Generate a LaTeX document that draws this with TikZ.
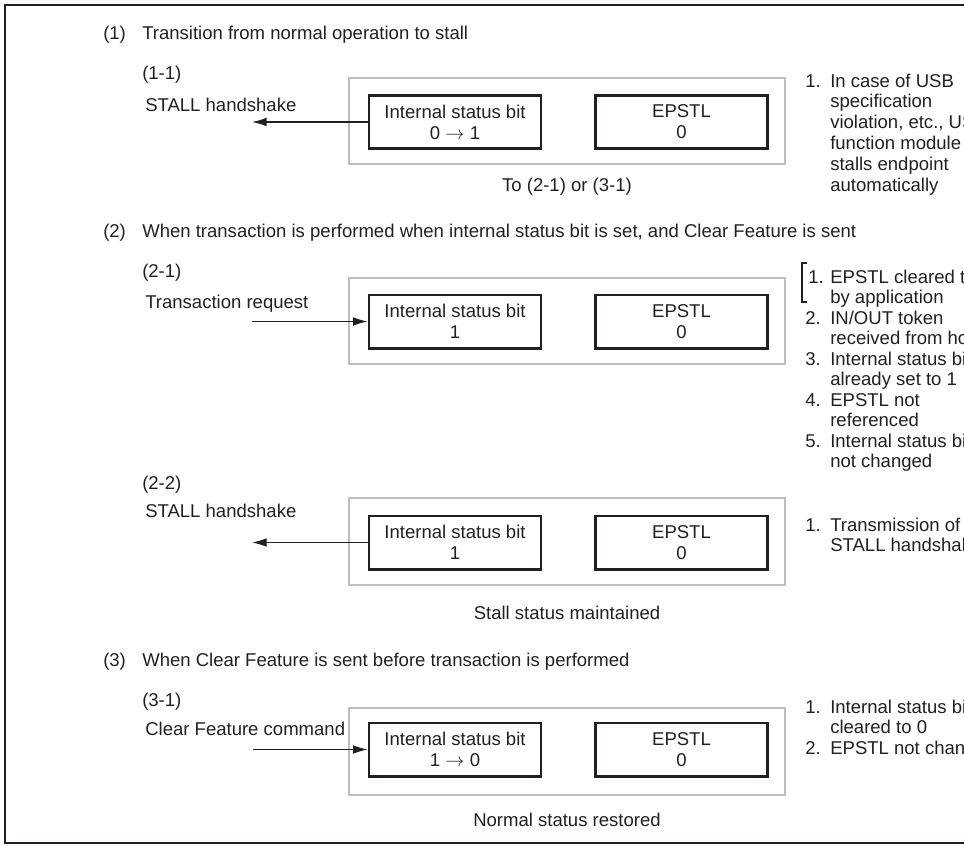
\documentclass[tikz,border=0pt]{standalone}
\usepackage{fontspec}
\setmainfont{Liberation Sans}
\usetikzlibrary{arrows.meta}
\definecolor{ink}{RGB}{35,31,32}
\definecolor{boxgray}{RGB}{190,190,190}
\begin{document}
\begin{tikzpicture}[x=0.75pt,y=-0.75pt,
  txt/.style={font=\fontsize{13.9}{15.2}\selectfont, text=ink, inner sep=0pt, anchor=base west},
  ctxt/.style={txt, anchor=base},
  statebox/.style={draw=ink, line width=2pt, fill=white, minimum width=129pt, minimum height=40pt, inner sep=0pt, align=center, font=\fontsize{13.9}{15.9}\selectfont, text=ink},
  outerbox/.style={draw=boxgray, line width=1.6pt, minimum width=327pt, minimum height=65pt, inner sep=0pt},
  sig/.style={draw=ink, line width=0.9pt, -{Latex[length=11pt,width=6.5pt]}},
  brk/.style={draw=ink, line width=0.8pt},
]
\useasboundingbox (0,0) rectangle (964,846);
\clip (0,0) rectangle (964,846);
% frame
\draw[line width=1.5pt, ink] (964,4.5) -- (4.5,4.5) -- (4.5,843) -- (964,843);

% ---------- (1) ----------
\node[txt] (h1n) at (103,39) {(1)};
\node[txt] (h1) at (142,39) {Transition from normal operation to stall};
\node[txt] (s11) at (142,79) {(1-1)};
\node[txt] (l11) at (145,111) {STALL handshake};
\node[outerbox] (o1) at (567,121) {};
\node[statebox] (i1) at (455,122) {Internal status bit\\0 $\rightarrow$ 1};
\node[statebox] (e1) at (681.5,122) {EPSTL\\0};
\coordinate (a1) at (252,122);
\draw[sig] (i1.west) -- (a1);
\node[ctxt] (c1) at (567,191) {To (2-1) or (3-1)};
\node[txt] (r1n) at (805,87) {1.};
\node[txt] (r1a) at (830,87) {In case of USB};
\node[txt] (r1b) at (830,107.8) {specification};
\node[txt] (r1c) at (830,128.6) {violation, etc., USB};
\node[txt] (r1d) at (830,149.4) {function module};
\node[txt] (r1e) at (830,170.2) {stalls endpoint};
\node[txt] (r1f) at (830,191) {automatically};

% ---------- (2) ----------
\node[txt] (h2n) at (103,237) {(2)};
\node[txt] (h2) at (142,237) {When transaction is performed when internal status bit is set, and Clear Feature is sent};
\node[txt] (s21) at (142,277) {(2-1)};
\node[txt] (l21) at (145,308) {Transaction request};
\node[outerbox] (o2) at (567,321) {};
\node[statebox] (i2) at (455,321.5) {Internal status bit\\1};
\node[statebox] (e2) at (681.5,321.5) {EPSTL\\0};
\coordinate (a2) at (252,321.5);
\draw[sig] (a2) -- (i2.west);
\draw[brk] (807,263) -- (802,263) -- (802,302) -- (807,302);
\node[txt] (r2n1) at (808,283) {1.};
\node[txt] (r2a) at (830,283) {EPSTL cleared to 0};
\node[txt] (r2b) at (830,303.5) {by application};
\node[txt] (r2n2) at (805,324) {2.};
\node[txt] (r2c) at (830,324) {IN/OUT token};
\node[txt] (r2d) at (830,344.5) {received from host};
\node[txt] (r2n3) at (805,365) {3.};
\node[txt] (r2e) at (830,365) {Internal status bit};
\node[txt] (r2f) at (830,385.5) {already set to 1};
\node[txt] (r2n4) at (805,406) {4.};
\node[txt] (r2g) at (830,406) {EPSTL not};
\node[txt] (r2h) at (830,426.5) {referenced};
\node[txt] (r2n5) at (805,447) {5.};
\node[txt] (r2i) at (830,447) {Internal status bit};
\node[txt] (r2j) at (830,467.5) {not changed};

\node[txt] (s22) at (142,489) {(2-2)};
\node[txt] (l22) at (145,517) {STALL handshake};
\node[outerbox] (o3) at (567,541.5) {};
\node[statebox] (i3) at (455,542.5) {Internal status bit\\1};
\node[statebox] (e3) at (681.5,542.5) {EPSTL\\0};
\coordinate (a3) at (252,542.5);
\draw[sig] (i3.west) -- (a3);
\node[ctxt] (c2) at (567,619) {Stall status maintained};
\node[txt] (r3n) at (805,531) {1.};
\node[txt] (r3a) at (830,531) {Transmission of};
\node[txt] (r3b) at (830,551.5) {STALL handshake};

% ---------- (3) ----------
\node[txt] (h3n) at (103,666) {(3)};
\node[txt] (h3) at (142,666) {When Clear Feature is sent before transaction is performed};
\node[txt] (s31) at (142,706) {(3-1)};
\node[txt] (l31) at (145,735) {Clear Feature command};
\node[outerbox] (o4) at (567,751.5) {};
\node[statebox] (i4) at (455,749.5) {Internal status bit\\1 $\rightarrow$ 0};
\node[statebox] (e4) at (681.5,749.5) {EPSTL\\0};
\coordinate (a4) at (253,749.5);
\draw[sig] (a4) -- (i4.west);
\node[ctxt] (c3) at (567,826) {Normal status restored};
\node[txt] (r4n1) at (805,713) {1.};
\node[txt] (r4a) at (830,713) {Internal status bit};
\node[txt] (r4b) at (830,733.5) {cleared to 0};
\node[txt] (r4n2) at (805,754) {2.};
\node[txt] (r4c) at (830,754) {EPSTL not changed};
\end{tikzpicture}
\end{document}
